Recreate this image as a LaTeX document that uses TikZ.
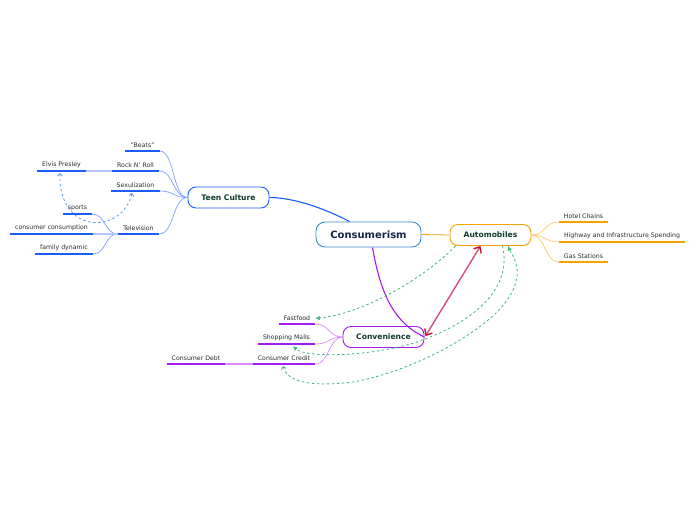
\documentclass[tikz,border=0pt]{standalone}
\usepackage{fontspec}
\setmainfont{DejaVu Sans}
\usetikzlibrary{arrows.meta}
\definecolor{tblue}{HTML}{1A5CFF}
\definecolor{tbluel}{HTML}{7FA0FF}
\definecolor{tbluell}{HTML}{B4C6FF}
\definecolor{bdashc}{HTML}{5A9AE8}
\definecolor{cblue}{HTML}{3A8CD0}
\definecolor{aorange}{HTML}{F5A300}
\definecolor{aorangel}{HTML}{FFC870}
\definecolor{cpurple}{HTML}{A21CF0}
\definecolor{cpurplel}{HTML}{D68CFF}
\definecolor{rred}{HTML}{D4506E}
\definecolor{rredd}{HTML}{C8102E}
\definecolor{rgreen}{HTML}{3DB878}
\definecolor{nodetext}{HTML}{0E3B30}
\definecolor{navy}{HTML}{15264A}
\definecolor{leaftext}{HTML}{2A2A2A}
\begin{document}
\begin{tikzpicture}[x=1pt,y=-1pt,
  topic/.style={draw, rounded corners=8pt, fill=white, line width=0.9pt,
    font=\fontsize{7.6}{8}\selectfont\bfseries, text=nodetext,
    minimum height=21pt, minimum width=81pt, inner xsep=4pt},
  leaf/.style={anchor=south, inner xsep=5pt, inner ysep=3pt,
    font=\fontsize{6.2}{7}\selectfont, text=leaftext},
  uline/.style={line width=1.6pt},
  subline/.style={line width=0.7pt},
  bridge/.style={line width=1.6pt},
  gdash/.style={rgreen, line width=0.8pt, dash pattern=on 2.5pt off 2.5pt},
  bdash/.style={bdashc, line width=0.8pt, dash pattern=on 2.5pt off 2.5pt},
]
\useasboundingbox (0,0) rectangle (696,520);

% main topics
\node[topic, draw=cblue, text=navy, font=\fontsize{10}{11}\selectfont\bfseries,
  minimum width=105pt, minimum height=25pt, rounded corners=9pt] (cons) at (368.5,234.5) {Consumerism};
\node[topic, draw=tblue] (teen) at (228.5,197.5) {Teen Culture};
\node[topic, draw=aorange] (auto) at (490.5,235) {Automobiles};
\node[topic, draw=cpurple] (conv) at (383.5,337) {Convenience};

% leaves: teen culture
\node[leaf, minimum width=33pt] (beats) at (142.5,151) {"Beats"};
\node[leaf, minimum width=47pt] (rock) at (135.5,171) {Rock N' Roll};
\node[leaf, minimum width=49pt] (elvis) at (61.5,171) {Elvis Presley};
\node[leaf, minimum width=47pt] (sexu) at (135.5,191) {Sexulization};
\node[leaf, minimum width=41pt] (tv) at (138.5,234) {Television};
\node[leaf, minimum width=29pt] (sports) at (77.5,214) {sports};
\node[leaf, minimum width=81pt] (consum) at (51.5,234) {consumer consumption};
\node[leaf, minimum width=56pt] (family) at (64,254) {family dynamic};
% leaves: automobiles
\node[leaf, minimum width=49pt] (hotel) at (583.5,222) {Hotel Chains};
\node[leaf, minimum width=126pt] (highway) at (622,242) {Highway and Infrastructure Spending};
\node[leaf, minimum width=49pt] (gas) at (583.5,262) {Gas Stations};
% leaves: convenience
\node[leaf, minimum width=36pt] (fast) at (297,324) {Fastfood};
\node[leaf, minimum width=57pt] (malls) at (286.5,344) {Shopping Malls};
\node[leaf, minimum width=62pt] (credit) at (284,364) {Consumer Credit};
\node[leaf, minimum width=58pt] (debt) at (196,364) {Consumer Debt};

% underlines
\foreach \n in {beats,rock,elvis,sexu,tv,sports,consum,family}
  \draw[uline, tblue] (\n.south west) -- (\n.south east);
\foreach \n in {hotel,highway,gas}
  \draw[uline, aorange] (\n.south west) -- (\n.south east);
\foreach \n in {fast,malls,credit,debt}
  \draw[uline, cpurple] (\n.south west) -- (\n.south east);

% sub connectors
\foreach \n in {beats,rock,sexu,tv}
  \draw[subline, tbluel] (teen.west) .. controls +(-15,0) and +(15,0) .. (\n.south east);
\foreach \n in {sports,consum,family}
  \draw[subline, tbluel] (tv.south west) .. controls +(-13,0) and +(13,0) .. (\n.south east);
\draw[bridge, tbluell] (elvis.south east) -- (rock.south west);
\draw[bridge, tbluell] (consum.south east) -- (tv.south west);
\foreach \n in {hotel,highway,gas}
  \draw[subline, aorangel] (auto.east) .. controls +(14,0) and +(-14,0) .. (\n.south west);
\foreach \n in {fast,malls,credit}
  \draw[subline, cpurplel] (conv.west) .. controls +(-14,0) and +(14,0) .. (\n.south east);
\draw[bridge, cpurplel] (debt.south east) -- (credit.south west);

% main connectors
\draw[tblue, line width=1.1pt] ([xshift=-19pt]cons.north) .. controls (320,206) and (290,197.5) .. (teen.east);
\draw[aorange, line width=0.8pt] (cons.east) -- (auto.west);
\draw[cpurple, line width=1.1pt] ([xshift=4pt]cons.south) .. controls (380,290) and (392,322) .. (conv.east);

% red relation
\draw[rred, line width=1.4pt, {Straight Barb[length=5pt,width=9pt,color=rredd]}-{Straight Barb[length=5pt,width=9pt,color=rredd]}]
  ([xshift=1pt,yshift=1pt]conv.east) -- ([xshift=-10pt]auto.south);

% green dashed relations
\draw[gdash, -{Latex[length=4.5pt,width=4.5pt]}] ([xshift=-35pt]auto.south) .. controls (420,282) and (360,314) .. (fast.east);
\draw[gdash, -{Latex[length=4.5pt,width=4.5pt]}] ([xshift=12pt]auto.south) .. controls (512,285) and (480,320) .. (417,342)
  .. controls (370,357) and (305,358) .. ([xshift=6.5pt,yshift=-2pt]malls.south);
\draw[gdash, {Straight Barb[length=2.5pt,width=5pt]}-{Latex[length=4.5pt,width=4.5pt]}] ([xshift=-1pt,yshift=-2pt]credit.south)
  .. controls (288,385) and (320,386) .. (353,382)
  .. controls (410,372) and (480,335) .. (505,303)
  .. controls (528,272) and (512,256) .. ([xshift=17.5pt]auto.south);

% blue dashed relation
\draw[bdash, {Straight Barb[length=2.5pt,width=5pt]}-{Straight Barb[length=2.5pt,width=5pt]}]
  ([xshift=-1.5pt,yshift=-2pt]elvis.south) .. controls (58,235) and (122,235) .. ([xshift=-3.5pt,yshift=-2pt]sexu.south);
\end{tikzpicture}
\end{document}
